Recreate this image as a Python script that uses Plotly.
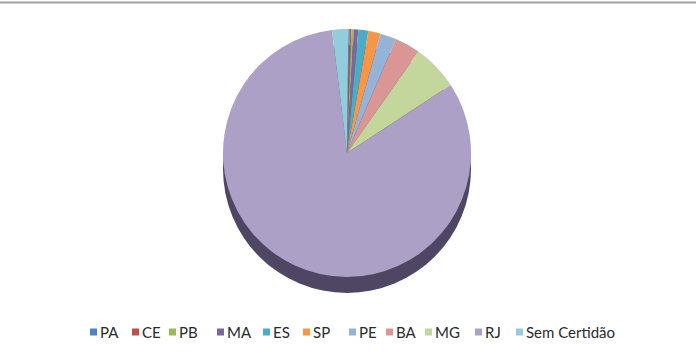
import plotly.graph_objects as go

labels = ["PA", "CE", "PB", "MA", "ES", "SP", "PE", "BA", "MG", "RJ", "Sem Certidão"]
values = [0.2, 0.2, 0.3, 0.6, 1.3, 1.6, 2.1, 3.3, 6.0, 82.3, 2.1]
colors = ["#4F81BD", "#C0504D", "#9BBB59", "#8064A2", "#4BACC6", "#F79646",
          "#95B3D7", "#D99694", "#C3D69B", "#ACA0C6", "#93CDDD"]

# layout: left edge (px) of each legend entry's colour square
legend_x = [90, 132, 169, 217, 263, 303, 349, 386, 425, 475, 516]

W, H = 696, 354
cx, cy, r = 347, 153, 124
depth = 16
leg_y = 332
sq = 7

fig = go.Figure()
fig.add_trace(go.Pie(
    labels=labels, values=values, sort=False, direction="clockwise",
    rotation=0.6, textinfo="none", showlegend=False,
    marker=dict(colors=colors, line=dict(width=0)),
    domain=dict(x=[(cx - r) / W, (cx + r) / W], y=[1 - (cy + r) / H, 1 - (cy - r) / H]),
))

# depth of the "3D" pie
fig.add_shape(type="circle", xref="paper", yref="paper", layer="below",
              x0=(cx - r) / W, x1=(cx + r) / W,
              y0=1 - (cy + r + depth) / H, y1=1 - (cy - r + depth) / H,
              fillcolor="#4E4663", line=dict(width=0))
# top rule
fig.add_shape(type="line", xref="paper", yref="paper", x0=0, x1=1,
              y0=1 - 2.5 / H, y1=1 - 2.5 / H, line=dict(color="#A0A0A0", width=2))

# legend
for lab, col, lx in zip(labels, colors, legend_x):
    fig.add_shape(type="rect", xref="paper", yref="paper",
                  x0=lx / W, x1=(lx + sq) / W,
                  y0=1 - (leg_y + sq / 2) / H, y1=1 - (leg_y - sq / 2) / H,
                  fillcolor=col, line=dict(width=0))
    fig.add_annotation(text=lab, xref="paper", yref="paper",
                       x=(lx + sq + 1) / W, y=1 - leg_y / H,
                       xanchor="left", yanchor="middle", showarrow=False,
                       font=dict(family="Lato", size=15, color="#2a2a2a"))

fig.update_layout(
    width=W, height=H, margin=dict(l=0, r=0, t=0, b=0),
    paper_bgcolor="white", plot_bgcolor="white",
    font=dict(family="Lato", size=15, color="#2a2a2a"),
    showlegend=False,
)

fig.write_html("out.html")
